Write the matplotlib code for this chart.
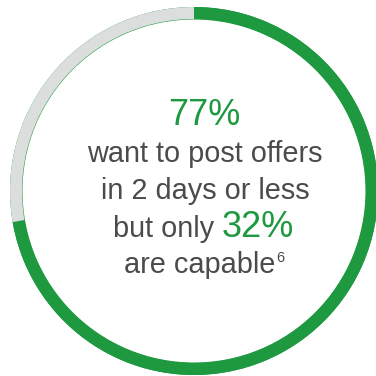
import matplotlib.pyplot as plt

# ring values (green share first, then the grey rest)
ring_values = [72.3, 27.7]
ring_colors = ['#1e9940', '#dcdedd']

big_pct = '77%'
small_pct = '32%'
line1 = 'want to post offers'
line2 = 'in 2 days or less'
line3 = 'but only'
line4 = 'are capable'
footnote = '6'

green = '#1e9940'
grey_txt = '#4b4b4d'

plt.rcParams['font.family'] = ['Liberation Sans', 'DejaVu Sans']

fig = plt.figure(figsize=(3.76, 3.76), dpi=100)
ax = fig.add_axes([0, 0, 1, 1])

# full green ring under the grey arc gives the thin green edge seen inside the grey part
ax.pie([1], radius=184, center=(194, 185), colors=[green],
       wedgeprops=dict(width=12.5, linewidth=0))
ax.pie(ring_values, radius=184, center=(194, 185), colors=ring_colors,
       startangle=90, counterclock=False,
       wedgeprops=dict(width=12, linewidth=0))

ax.set_xlim(0, 376)
ax.set_ylim(0, 376)
ax.set_aspect('equal')
ax.axis('off')

# text, placed in pixel coords (y counted from the bottom)
ax.text(204, 376 - 125, big_pct, color=green, fontsize=26, ha='center', va='baseline')
ax.text(205, 376 - 162, line1, color=grey_txt, fontsize=20.8, ha='center', va='baseline')
ax.text(205, 376 - 199, line2, color=grey_txt, fontsize=20.8, ha='center', va='baseline')
ax.text(214, 376 - 237, line3, color=grey_txt, fontsize=20.8, ha='right', va='baseline')
ax.text(222, 376 - 237, small_pct, color=green, fontsize=26, ha='left', va='baseline')
ax.text(200, 376 - 273, line4, color=grey_txt, fontsize=20.8, ha='center', va='baseline')
ax.text(276, 376 - 262, footnote, color=grey_txt, fontsize=10.5, ha='left', va='baseline')

fig.savefig('out.png', dpi=100, facecolor='white')
